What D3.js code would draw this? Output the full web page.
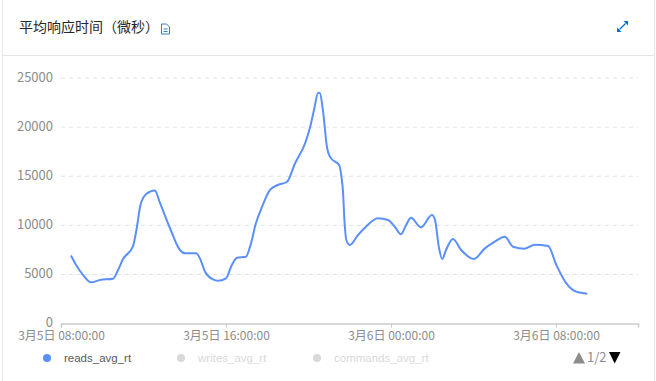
<!DOCTYPE html>
<html>
<head>
<meta charset="utf-8">
<script src="https://cdn.jsdelivr.net/npm/d3@7"></script>
<style>
  html, body { margin: 0; padding: 0; background: #fff; }
  svg { display: block; }
  text { font-family: "Noto Sans CJK SC", "Noto Sans", sans-serif; }
  .axis path, .axis line { stroke: #ccc; }
  .axis text { fill: #8c8c8c; font-size: 12px; font-family: "Noto Sans CJK SC", "Noto Sans", sans-serif; }
  .y-axis text { font-size: 13px; }
  .legend-text { font-family: "Liberation Sans", sans-serif; }
</style>
</head>
<body>
<div id="chart"></div>
<script>
// chart values
var titleText = "平均响应时间（微秒）";
var seriesNames = ["reads_avg_rt", "writes_avg_rt", "commands_avg_rt"];
var seriesColors = ["#5b8ff9", "#d9d9d9", "#d9d9d9"];
var yTicks = [0, 5000, 10000, 15000, 20000, 25000];
var xTickHours = [0, 8, 16, 24];
var xTickLabels = ["3月5日 08:00:00", "3月5日 16:00:00", "3月6日 00:00:00", "3月6日 08:00:00"];
var pageLabel = "1/2";

// minutes after 3月5日 08:00
var minutes = [29, 44, 64, 87, 113, 151, 166, 180, 209, 221, 230, 241, 259, 273, 288, 317, 346, 361, 393, 404,
  419, 442, 457, 480, 497, 512, 538, 550, 567, 585, 608, 631, 657, 681, 710, 724, 736, 748, 753, 762,
  774, 780, 788, 809, 817, 820, 825, 830, 840, 864, 887, 922, 951, 971, 989, 1004, 1018, 1047, 1079, 1088,
  1099, 1109, 1120, 1140, 1164, 1201, 1233, 1262, 1291, 1315, 1349, 1378, 1417, 1441, 1470, 1499, 1531];
var readsAvgRt = [6930, 5960, 4950, 4200, 4440, 4570, 5460, 6550, 7830, 9860, 11900, 12920, 13430, 13550, 12280, 9730, 7490, 7150, 7150, 6640,
  5280, 4500, 4370, 4610, 5970, 6710, 6810, 7830, 10210, 11900, 13600, 14110, 14410, 16320, 18350, 19900, 21740, 23500, 23480, 21700,
  17900, 17160, 16730, 16150, 14620, 13600, 10240, 8510, 8000, 9020, 9860, 10720, 10550, 9860, 9090, 10040, 10780, 9800, 11050, 10550,
  7830, 6580, 7490, 8610, 7490, 6580, 7660, 8340, 8850, 7830, 7630, 8030, 7900, 5970, 4100, 3250, 3050];

var width = 656,
    height = 381,
    margin = {left: 61, right: 18, top: 78, bottom: 57.4},
    startTime = new Date(2021, 2, 5, 8, 0, 0);

function minutesToDate(m) {
  return new Date(startTime.getTime() + m * 60000);
}

var svg = d3.select("#chart")
  .append("svg")
    .attr("width", width)
    .attr("height", height);

// card border and header
svg.append("rect")
    .attr("x", 2.5)
    .attr("y", -6.5)
    .attr("width", 652)
    .attr("height", 400)
    .attr("rx", 6)
    .attr("fill", "#fff")
    .attr("stroke", "#e8e8e8");

svg.append("line")
    .attr("x1", 3)
    .attr("x2", 654)
    .attr("y1", 55.5)
    .attr("y2", 55.5)
    .attr("stroke", "#e3e3e3");

svg.append("text")
    .attr("x", 19)
    .attr("y", 32)
    .attr("font-size", 14)
    .attr("fill", "#262626")
    .text(titleText);

// little document icon next to the title
var doc = svg.append("g")
    .attr("transform", "translate(161,23.5)")
    .attr("fill", "none")
    .attr("stroke", "#2f7fd0");
doc.append("path").attr("d", "M0.5 0.5H5.5L8.5 3.5V10.5H0.5Z");
doc.append("path").attr("d", "M2.5 5.5H6.5M2.5 8H6.5");

// expand icon top right
var expand = svg.append("g")
    .attr("transform", "translate(617,21)");
expand.append("line")
    .attr("x1", 2.5).attr("y1", 8.5).attr("x2", 8.5).attr("y2", 2.5)
    .attr("stroke", "#0070cc").attr("stroke-width", 1.2);
expand.append("path").attr("d", "M0 11V6.5L4.5 11Z").attr("fill", "#0070cc");
expand.append("path").attr("d", "M11 0V4.5L6.5 0Z").attr("fill", "#0070cc");

// scales
var x = d3.scaleTime()
    .domain([startTime, minutesToDate(1678.5)])
    .range([margin.left, width - margin.right]);

var y = d3.scaleLinear()
    .domain([0, 25000])
    .range([height - margin.bottom, margin.top]);

// grid lines
svg.append("g")
  .selectAll("line")
    .data(yTicks.slice(1))
    .enter()
  .append("line")
    .attr("x1", margin.left)
    .attr("x2", width - margin.right)
    .attr("y1", function(d) { return y(d); })
    .attr("y2", function(d) { return y(d); })
    .attr("stroke", "#e2e2e2")
    .attr("stroke-dasharray", "4,4");

// axes
var xAxis = d3.axisBottom(x)
    .tickValues(xTickHours.map(function(h) { return minutesToDate(h * 60); }))
    .tickFormat(function(d, i) { return xTickLabels[i]; })
    .tickSize(4)
    .tickPadding(4);

var xAxisG = svg.append("g")
    .attr("class", "axis")
    .attr("transform", "translate(0," + y(0) + ")")
    .call(xAxis);
xAxisG.select(".domain").attr("stroke-width", 1.5);

var yAxis = d3.axisLeft(y)
    .tickValues(yTicks)
    .tickFormat(d3.format("d"))
    .tickSize(0)
    .tickPadding(8);

var yAxisG = svg.append("g")
    .attr("class", "axis y-axis")
    .attr("transform", "translate(" + margin.left + ",0)")
    .call(yAxis);
yAxisG.select(".domain").remove();
yAxisG.selectAll("text").attr("dy", "0.24em");

// reads line
var line = d3.line()
    .x(function(d, i) { return x(minutesToDate(minutes[i])); })
    .y(function(d) { return y(d); })
    .curve(d3.curveMonotoneX);

svg.append("path")
    .datum(readsAvgRt)
    .attr("fill", "none")
    .attr("stroke", seriesColors[0])
    .attr("stroke-width", 2)
    .attr("stroke-linejoin", "round")
    .attr("d", line);

// legend
var legendX = [47, 181, 317];
var legend = svg.append("g")
  .selectAll("g")
    .data(seriesNames)
    .enter()
  .append("g")
    .attr("transform", function(d, i) { return "translate(" + legendX[i] + ",358)"; });

legend.append("circle")
    .attr("r", 4)
    .attr("fill", function(d, i) { return seriesColors[i]; });

legend.append("text")
    .attr("class", "legend-text")
    .attr("x", 17)
    .attr("y", 3.5)
    .attr("font-size", 11.5)
    .attr("fill", function(d, i) { return i === 0 ? "#595959" : "#d9d9d9"; })
    .text(function(d) { return d; });

// legend pager
svg.append("path")
    .attr("d", "M573 363.5L579 352L585 363.5Z")
    .attr("fill", "#8c8c8c");
svg.append("text")
    .attr("x", 587)
    .attr("y", 362)
    .attr("font-size", 13)
    .attr("fill", "#8c8c8c")
    .text(pageLabel);
svg.append("path")
    .attr("d", "M609 352H620.5L614.7 363.5Z")
    .attr("fill", "#000");
</script>
</body>
</html>
